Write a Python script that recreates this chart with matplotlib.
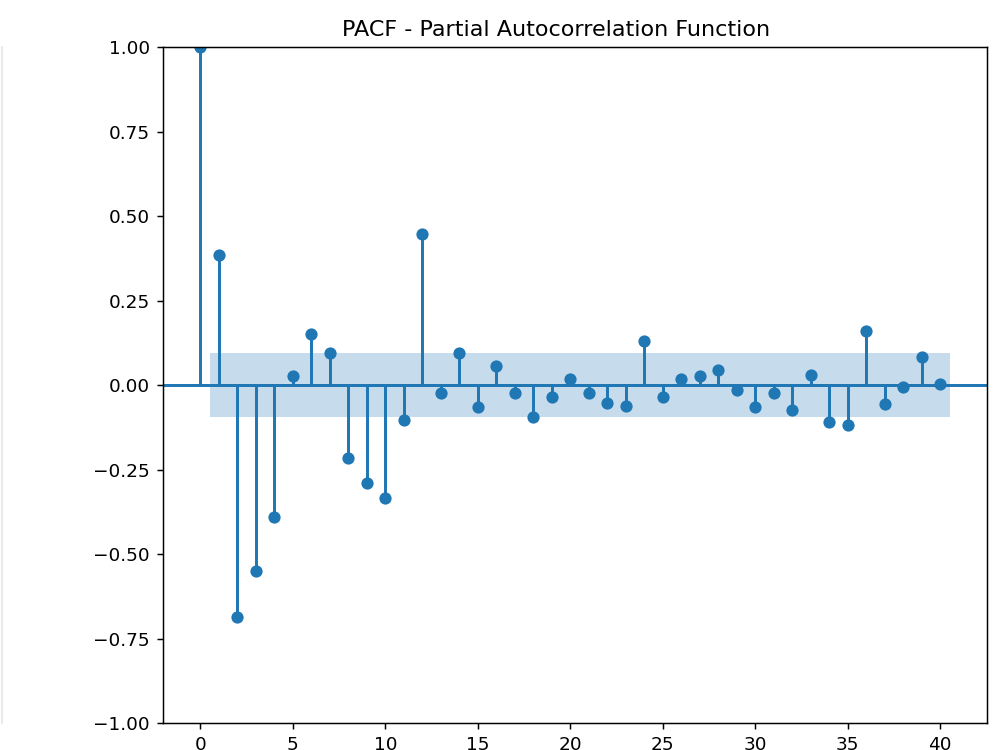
"""PACF stem plot, statsmodels style."""
import matplotlib

matplotlib.use("Agg")
import matplotlib.pyplot as plt
import numpy as np
from matplotlib.lines import Line2D

TITLE = "PACF - Partial Autocorrelation Function"

lags = np.arange(0, 41)
pacf_vals = [
    1.000, 0.385, -0.685, -0.550, -0.391, 0.026, 0.151, 0.096, -0.217, -0.290,
    -0.333, -0.104, 0.447, -0.023, 0.096, -0.066, 0.056, -0.023, -0.096, -0.035,
    0.018, -0.023, -0.052, -0.062, 0.129, -0.035, 0.017, 0.026, 0.043, -0.015,
    -0.066, -0.023, -0.074, 0.031, -0.109, -0.119, 0.160, -0.057, -0.005, 0.082,
    0.004,
]
conf_half = 0.096  # ~1.96/sqrt(n)


def main():
    dpi = 400 / 3
    fig = plt.figure(figsize=(1000 / dpi, 750 / dpi), dpi=dpi)
    ax = fig.add_axes([0.163, 0.036, 0.824, 0.9013])

    vals = np.asarray(pacf_vals)
    ax.vlines(lags, [0], vals, color="C0", lw=1.6)
    ax.axhline(0, color="C0", lw=1.6)
    ax.margins(0.05)
    ax.plot(lags, vals, color="C0", marker="o", markersize=5.6, linestyle="None")
    # title sits a bit left of the axes centre in the reference
    ax.set_title(TITLE, x=0.477)
    ax.set_ylim(-1, 1)

    # band skips lag 0 and is widened half a lag at each end
    band_x = lags[1:].astype(float)
    band_x[0] -= 0.5
    band_x[-1] += 0.5
    ax.fill_between(band_x, -conf_half, conf_half, alpha=0.25)

    # faint edge of the neighbouring panel, left of the crop
    fig.add_artist(Line2D([0.0015, 0.0015], [0.036, 0.9373],
                          transform=fig.transFigure, color="#e8e8e8", lw=1))

    fig.savefig("out.png", dpi=dpi)


if __name__ == "__main__":
    main()
